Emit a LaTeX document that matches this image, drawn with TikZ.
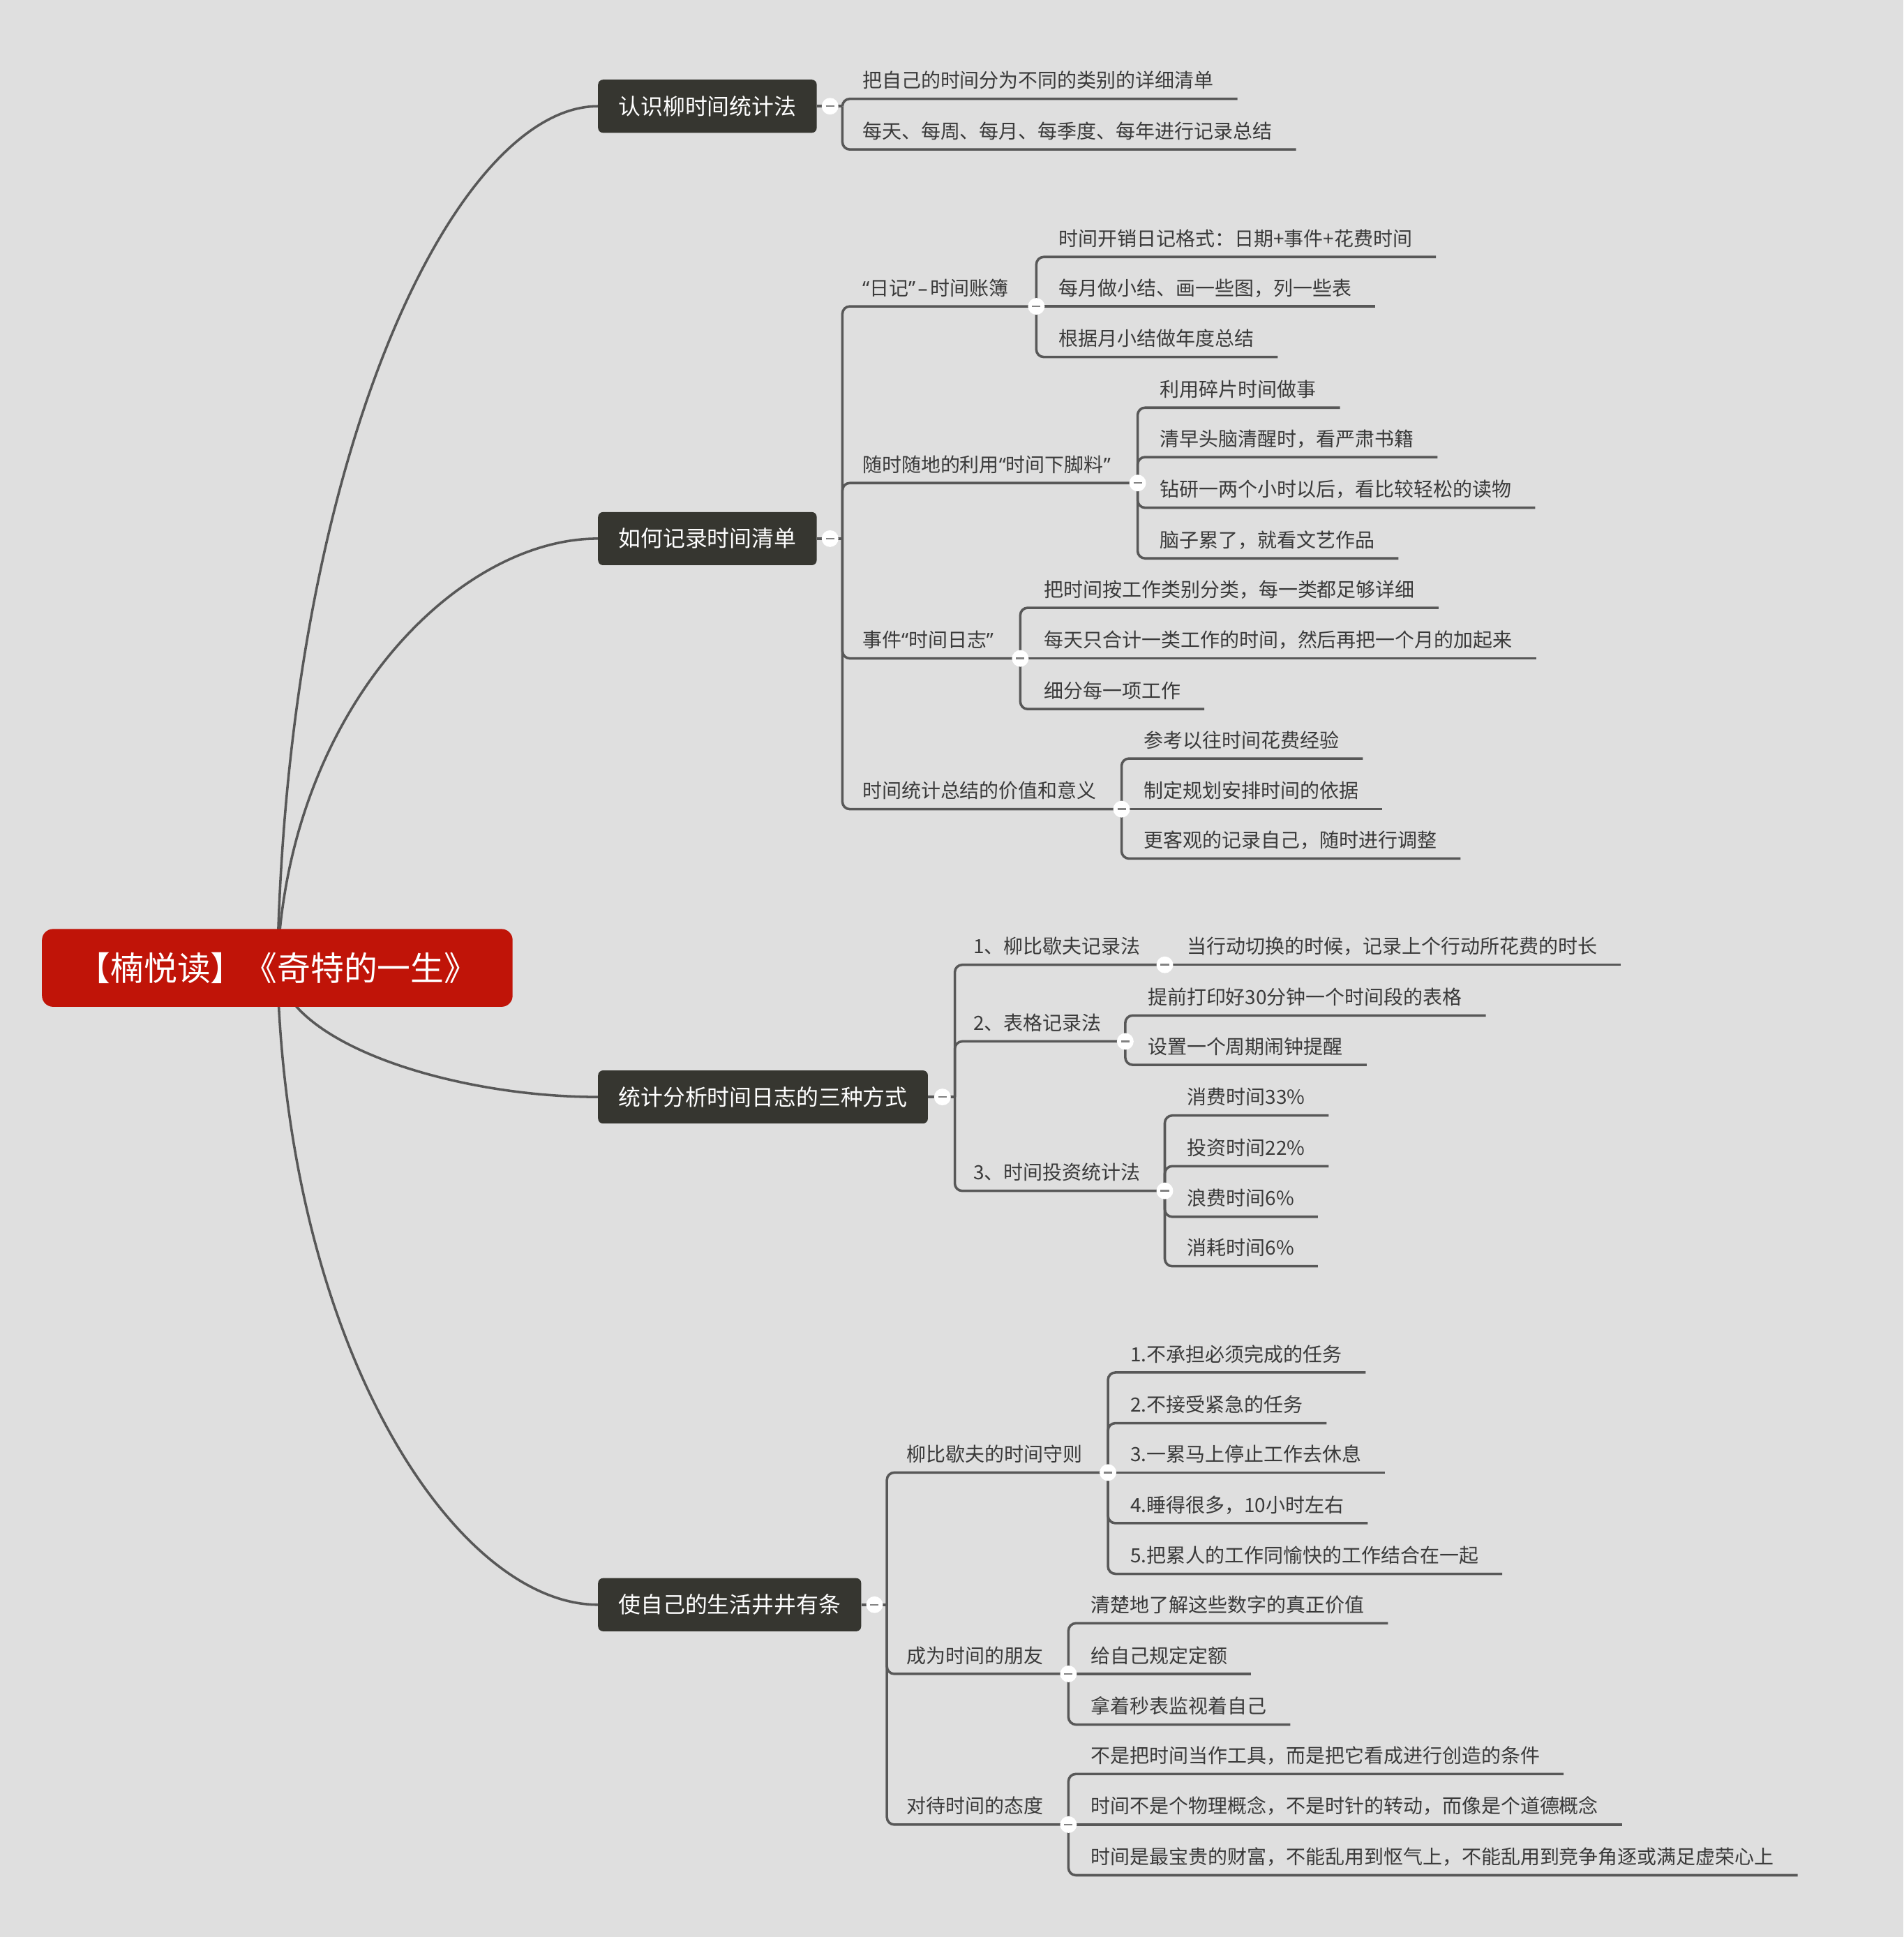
\documentclass[tikz,border=0pt]{standalone}
\usepackage{fontspec}
\setmainfont{Noto Sans CJK SC}
\newfontfamily\latq{Noto Sans}
\usetikzlibrary{calc}
\definecolor{bgc}{RGB}{223,223,223}
\definecolor{linec}{RGB}{88,88,88}
\definecolor{topicc}{RGB}{54,54,48}
\definecolor{rootc}{RGB}{192,20,8}
\definecolor{txtc}{RGB}{58,58,58}
\definecolor{minusc}{RGB}{130,130,130}
\pgfdeclarelayer{bg}
\pgfsetlayers{bg,main}
\newcommand\q[1]{{\latq #1}}
\tikzset{
  conn/.style={draw=linec, line width=2pt, rounded corners=6pt},
  rootcurve/.style={draw=linec, line width=2pt},
  leaf/.style={anchor=base west, inner sep=0pt, text=txtc, font=\fontsize{15.8}{18}\selectfont},
  topic/.style={anchor=west, fill=topicc, text=white, rounded corners=4pt, minimum height=43pt, inner xsep=16.5pt, inner ysep=0pt, font=\fontsize{18}{20}\selectfont},
  rootnode/.style={fill=rootc, text=white, rounded corners=9pt, minimum width=381pt, minimum height=63pt, inner sep=0pt, font=\fontsize{27}{30}\selectfont},
  tog/.style={circle, fill=white, minimum size=13.5pt, inner sep=0pt,
    path picture={\draw[minusc, line width=1.4pt] ([xshift=-3.4pt]path picture bounding box.center) -- ([xshift=3.4pt]path picture bounding box.center);}},
}
% #1 name, #2 junction, #3 trunk x, #4 underline y, #5 text x, #6 text
\newcommand\leafnode[6]{%
  \node[leaf] (#1) at (#5,#4-9) {#6};
  \draw[conn] (#2) -- (#3,#4) -- ($(#1.base east)+(19,9)$);
}
% #1 name, #2 junction, #3 underline y, #4 text x, #5 text
\newcommand\leafmid[5]{%
  \node[leaf] (#1) at (#4,#3-9) {#5};
  \draw[conn] (#2) -- ($(#1.base east)+(19,9)$);
}
% #1 name, #2 junction, #3 trunk x, #4 underline y, #5 text x, #6 circle x, #7 text
\newcommand\branchnode[7]{%
  \node[leaf] (#1) at (#5,#4-9) {#7};
  \coordinate (#1c) at (#6,#4);
  \draw[conn] (#2) -- (#3,#4) -- (#1c);
}
% curve from root to a main topic
\newcommand\rootlink[1]{%
  \draw[rootcurve] (root.center) .. controls ($(root.center)!0.6!(root.center |- #1.west)+(7.5,0)$)
     and ($(root.center |- #1.west)!0.56!(#1.west)$) .. (#1.west);
}
\begin{document}
\begin{tikzpicture}[x=1pt,y=-1pt]
\useasboundingbox (0,0) rectangle (1541,1568);
\begin{pgfonlayer}{bg}
\fill[bgc] (0,0) rectangle (1541,1568);
\end{pgfonlayer}

% root and main topics
\node[rootnode] (root) at (224.5,783.5) {【楠悦读】《奇特的一生》};
\node[topic] (m1) at (484,86) {认识柳时间统计法};
\node[topic] (m2) at (484,436) {如何记录时间清单};
\node[topic] (m3) at (484,888) {统计分析时间日志的三种方式};
\node[topic] (m4) at (484,1299) {使自己的生活井井有条};

\begin{pgfonlayer}{bg}
\rootlink{m1}
\rootlink{m2}
\rootlink{m3}
\rootlink{m4}
\end{pgfonlayer}

\coordinate (j1) at (682,86);
\coordinate (j2) at (682,436);
\coordinate (j3) at (773,888);
\coordinate (j4) at (718,1299);
\draw[conn] (m1.east) -- (j1);
\draw[conn] (m2.east) -- (j2);
\draw[conn] (m3.east) -- (j3);
\draw[conn] (m4.east) -- (j4);

% branch 1
\leafnode{a1}{j1}{682}{80}{698}{把自己的时间分为不同的类别的详细清单}
\leafnode{a2}{j1}{682}{121}{698}{每天、每周、每月、每季度、每年进行记录总结}

% branch 2
\branchnode{b1}{j2}{682}{248}{698}{839}{\q{“}日记\q{”}\hspace{2pt}\q{–}\hspace{2pt}时间账簿}
\leafnode{b11}{b1c}{839}{208}{857}{时间开销日记格式：日期+事件+花费时间}
\leafmid{b12}{b1c}{248}{857}{每月做小结、画一些图，列一些表}
\leafnode{b13}{b1c}{839}{289}{857}{根据月小结做年度总结}
\branchnode{b2}{j2}{682}{391}{698}{921}{随时随地的利用\q{“}时间下脚料\q{”}}
\leafnode{b21}{b2c}{921}{330}{939}{利用碎片时间做事}
\leafnode{b22}{b2c}{921}{370}{939}{清早头脑清醒时，看严肃书籍}
\leafnode{b23}{b2c}{921}{411}{939}{钻研一两个小时以后，看比较轻松的读物}
\leafnode{b24}{b2c}{921}{452}{939}{脑子累了，就看文艺作品}
\branchnode{b3}{j2}{682}{533}{698}{826}{事件\q{“}时间日志\q{”}}
\leafnode{b31}{b3c}{826}{492}{845}{把时间按工作类别分类，每一类都足够详细}
\leafmid{b32}{b3c}{533}{845}{每天只合计一类工作的时间，然后再把一个月的加起来}
\leafnode{b33}{b3c}{826}{574}{845}{细分每一项工作}
\branchnode{b4}{j2}{682}{655}{698}{908}{时间统计总结的价值和意义}
\leafnode{b41}{b4c}{908}{614}{926}{参考以往时间花费经验}
\leafmid{b42}{b4c}{655}{926}{制定规划安排时间的依据}
\leafnode{b43}{b4c}{908}{695}{926}{更客观的记录自己，随时进行调整}

% branch 3
\branchnode{c1}{j3}{773}{781}{788}{943}{1、柳比歇夫记录法}
\leafmid{c11}{c1c}{781}{961}{当行动切换的时候，记录上个行动所花费的时长}
\branchnode{c2}{j3}{773}{843}{788}{911}{2、表格记录法}
\leafnode{c21}{c2c}{911}{822}{929}{提前打印好30分钟一个时间段的表格}
\leafnode{c22}{c2c}{911}{862}{929}{设置一个周期闹钟提醒}
\branchnode{c3}{j3}{773}{964}{788}{943}{3、时间投资统计法}
\leafnode{c31}{c3c}{943}{903}{961}{消费时间33\%}
\leafnode{c32}{c3c}{943}{944}{961}{投资时间22\%}
\leafnode{c33}{c3c}{943}{985}{961}{浪费时间6\%}
\leafnode{c34}{c3c}{943}{1025}{961}{消耗时间6\%}

% branch 4
\branchnode{d1}{j4}{718}{1192}{734}{897}{柳比歇夫的时间守则}
\leafnode{d11}{d1c}{897}{1111}{915}{1.不承担必须完成的任务}
\leafnode{d12}{d1c}{897}{1152}{915}{2.不接受紧急的任务}
\leafmid{d13}{d1c}{1192}{915}{3.一累马上停止工作去休息}
\leafnode{d14}{d1c}{897}{1233}{915}{4.睡得很多，10小时左右}
\leafnode{d15}{d1c}{897}{1274}{915}{5.把累人的工作同愉快的工作结合在一起}
\branchnode{d2}{j4}{718}{1355}{734}{865}{成为时间的朋友}
\leafnode{d21}{d2c}{865}{1314}{883}{清楚地了解这些数字的真正价值}
\leafmid{d22}{d2c}{1355}{883}{给自己规定定额}
\leafnode{d23}{d2c}{865}{1396}{883}{拿着秒表监视着自己}
\branchnode{d3}{j4}{718}{1477}{734}{865}{对待时间的态度}
\leafnode{d31}{d3c}{865}{1436}{883}{不是把时间当作工具，而是把它看成进行创造的条件}
\leafmid{d32}{d3c}{1477}{883}{时间不是个物理概念，不是时针的转动，而像是个道德概念}
\leafnode{d33}{d3c}{865}{1518}{883}{时间是最宝贵的财富，不能乱用到怄气上，不能乱用到竞争角逐或满足虚荣心上}

% collapse toggles
\node[tog] (t1) at (672,86) {};
\node[tog] (t2) at (672,436) {};
\node[tog] (t3) at (763,888) {};
\node[tog] (t4) at (708,1299) {};
\node[tog] (tb1) at (b1c) {};
\node[tog] (tb2) at (b2c) {};
\node[tog] (tb3) at (b3c) {};
\node[tog] (tb4) at (b4c) {};
\node[tog] (tc1) at (c1c) {};
\node[tog] (tc2) at (c2c) {};
\node[tog] (tc3) at (c3c) {};
\node[tog] (td1) at (d1c) {};
\node[tog] (td2) at (d2c) {};
\node[tog] (td3) at (d3c) {};
\end{tikzpicture}
\end{document}
